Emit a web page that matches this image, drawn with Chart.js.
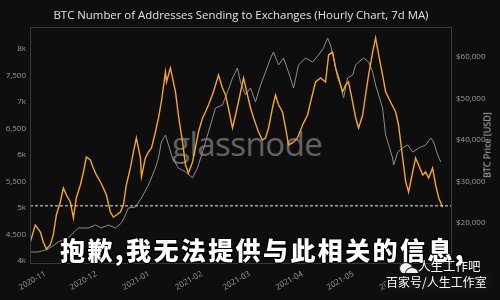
<!DOCTYPE html>
<html>
<head>
<meta charset="utf-8">
<script src="https://cdn.jsdelivr.net/npm/chart.js@4.4.1/dist/chart.umd.min.js"></script>
<style>
  body { margin: 0; background: #0e0e0e; }
  #wrap { position: relative; width: 500px; height: 300px; overflow: hidden; font-family: "Open Sans", "Noto Sans", sans-serif; }
  #chart { position: absolute; left: 0; top: 0; }
  .wm { position: absolute; left: 172px; top: 121px; font: 500 33px "Open Sans", sans-serif; color: #626262; letter-spacing: -0.5px; }
  .title { position: absolute; left: 0; top: 7px; width: 482px; text-align: center; font-size: 11.4px; color: #e2e2e2; }
  .ytitle { position: absolute; left: 487px; top: 145px; transform: translate(-50%, -50%) rotate(-90deg); font-size: 9px; color: #c4c4c4; white-space: nowrap; }
  .cn { position: absolute; left: 60px; top: 231px; font: 900 25px "Noto Sans CJK SC", sans-serif; color: #fff; letter-spacing: 2.4px; white-space: nowrap;
        text-shadow: 0 0 2px #000, 1px 1px 0 #000, -1px -1px 0 #000, 1px -1px 0 #000, -1px 1px 0 #000; }
  .brand1 { position: absolute; left: 418px; top: 256px; font: 12.5px "Noto Sans CJK SC", sans-serif; color: #fff; }
  .brand2 { position: absolute; left: 386px; top: 273px; padding-right: 4px; font: 12px "Noto Sans CJK SC", sans-serif; color: #fff; background: #111; }
  .dot { position: absolute; border-radius: 50%; background: #f0f0f0; border: 1px solid #222; }
</style>
</head>
<body>
<div id="wrap">
  <div class="wm">glassnode</div>
  <canvas id="chart" width="500" height="300"></canvas>
  <div class="title">BTC Number of Addresses Sending to Exchanges (Hourly Chart, 7d MA)</div>
  <div class="ytitle">BTC Price [USD]</div>
  <div class="cn">抱歉,我无法提供与此相关的信息,</div>
  <div class="dot" style="left:399px;top:262px;width:12px;height:11px"></div>
  <div class="dot" style="left:405px;top:267px;width:12px;height:11px"></div>
  <div class="brand1">人生工作吧</div>
  <div class="brand2">百家号/人生工作室</div>
</div>
<script>
// days counted from 2020-11-01
const addrDays = [-8.8, -5.9, -2.9, -1.2, 0.6, 2.9, 4.7, 6.5, 8.8, 10.6, 12.4, 14.7, 16.5, 18.2, 20.6, 22.4, 24.1, 26.5, 28.2, 30.0,
  32.4, 34.1, 35.9, 38.2, 40.0, 41.8, 44.1, 45.9, 47.6, 50.0, 51.8, 53.5, 55.9, 56.5, 58.8, 60.6, 62.4, 64.7, 66.5, 68.2,
  70.6, 71.2, 73.5, 76.5, 78.2, 80.6, 82.4, 84.1, 86.5, 88.2, 90.0, 92.4, 94.1, 95.9, 98.8, 101.8, 104.1, 105.9, 107.6, 110.0,
  111.8, 113.5, 116.5, 118.8, 120.6, 122.4, 125.3, 127.6, 129.4, 131.2, 133.5, 135.3, 137.1, 139.4, 141.2, 142.9, 145.3, 148.2, 151.2, 154.1,
  155.9, 158.8, 161.8, 164.7, 166.5, 168.8, 170.6, 172.4, 174.7, 176.5, 178.2, 180.6, 182.4, 184.1, 186.5, 188.2, 190.0, 192.4, 194.1, 195.9,
  198.2, 200.0, 202.9, 205.9, 207.6, 210.0, 211.8, 213.5, 215.9, 217.6, 219.4, 221.8, 223.5, 225.3, 227.6, 229.4, 231.2, 233.5];
const addrValues = [4358, 4679, 4547, 4358, 4226, 4302, 4491, 4868, 5113, 5378, 5245, 5113, 4811, 5189, 5434, 5679, 5962, 5906, 5755, 5623,
  5491, 5378, 5245, 4925, 4830, 4868, 4925, 5057, 5434, 5755, 6057, 6321, 5944, 5585, 5944, 6057, 6132, 6434, 6698, 7000,
  7566, 7378, 7642, 7189, 6755, 6245, 5811, 5660, 5868, 6132, 6434, 6698, 6811, 6943, 7189, 7510, 7264, 7132, 6887, 6510,
  6755, 7000, 7453, 7132, 6887, 6698, 6434, 6283, 6321, 6510, 6887, 7132, 6943, 6811, 6510, 6189, 6227, 6321, 6566, 6755,
  7000, 7378, 7453, 7378, 7887, 7944, 7642, 7453, 7189, 7321, 7378, 7000, 6698, 6510, 6755, 7132, 7510, 7944, 8208, 7887,
  7510, 7189, 7000, 6811, 6566, 5944, 5491, 5302, 5679, 5944, 5811, 5623, 5679, 5566, 5755, 5434, 5189, 5019];

const priceDays = [-8.8, -4.1, 1.8, 7.6, 13.5, 19.4, 25.3, 29.4, 32.9, 37.1, 41.2, 44.7, 47.1, 48.8, 52.9, 56.5, 60.6, 64.7, 66.5, 68.2,
  70.6, 72.4, 74.7, 78.2, 82.4, 86.5, 89.4, 92.4, 95.9, 100.0, 104.1, 107.1, 110.0, 112.9, 114.7, 117.6, 120.6, 123.5, 126.5, 129.4,
  132.4, 134.1, 137.1, 140.0, 142.9, 145.9, 148.8, 152.9, 157.1, 160.6, 163.5, 165.9, 167.6, 169.4, 171.8, 173.5, 175.3, 177.6, 180.6, 182.4,
  184.1, 187.1, 190.0, 192.4, 194.1, 195.9, 198.2, 200.0, 201.8, 204.1, 204.7, 207.1, 210.0, 212.9, 215.9, 219.4, 223.5, 226.5, 228.2, 230.6, 232.4];
const priceValues = [13012, 13012, 13735, 15422, 16386, 18795, 18795, 19518, 18795, 19518, 18795, 20000, 21928, 23614, 23855, 26024, 29157, 33253, 35663, 39518,
  41205, 38795, 35663, 33253, 32289, 30843, 33253, 37108, 41928, 47711, 48434, 51566, 54940, 57349, 53976, 50843, 52530, 49157, 53253, 56386,
  59759, 61205, 58072, 59759, 56386, 52530, 58072, 59759, 58795, 60482, 62169, 64578, 62892, 59759, 54940, 53253, 50120, 54940, 55663, 58072,
  58795, 59759, 58795, 56386, 53253, 50843, 47711, 41205, 38795, 35663, 33976, 37108, 38072, 38795, 37108, 38072, 38795, 40482, 39518, 36386, 34699];

const thresholdValue = 5040;
const dayRange = [-9, 239];
const monthDays = [0, 30, 61, 92, 120, 151, 181, 212];
const monthLabels = ['2020-11', '2020-12', '2021-01', '2021-02', '2021-03', '2021-04', '2021-05', '2021-06'];
const addrTicks = [4000, 4500, 5000, 5500, 6000, 6500, 7000, 7500, 8000];
const priceTicks = [20000, 30000, 40000, 50000, 60000];

const toPoints = (xs, ys) => xs.map((x, i) => ({ x: x, y: ys[i] }));

const frame = {
    id: 'frame',
    afterDraw(chart) {
        const a = chart.chartArea, c = chart.ctx;
        c.save();
        c.strokeStyle = '#3a3a3a';
        c.lineWidth = 1;
        c.strokeRect(a.left + 0.5, a.top + 0.5, a.right - a.left - 1, a.bottom - a.top);
        c.restore();
    }
};

const tickFont = { family: 'Open Sans', size: 8 };

new Chart(document.getElementById('chart').getContext('2d'), {
    type: 'line',
    data: {
        datasets: [{
            data: [{ x: dayRange[0], y: thresholdValue }, { x: dayRange[1], y: thresholdValue }],
            yAxisID: 'y',
            borderColor: '#e6e6e6',
            borderWidth: 1,
            borderDash: [3, 2]
        }, {
            label: 'Addresses',
            data: toPoints(addrDays, addrValues),
            yAxisID: 'y',
            borderColor: '#f4a52c',
            borderWidth: 1.4
        }, {
            label: 'Price',
            data: toPoints(priceDays, priceValues),
            yAxisID: 'yPrice',
            borderColor: '#8e8e8e',
            borderWidth: 1
        }]
    },
    options: {
        responsive: false,
        animation: false,
        layout: { padding: { top: 27 } },
        elements: { point: { radius: 0 }, line: { tension: 0 } },
        plugins: { legend: { display: false }, tooltip: { enabled: false } },
        scales: {
            x: {
                type: 'linear',
                min: dayRange[0],
                max: dayRange[1],
                grid: { display: false },
                border: { display: false },
                afterBuildTicks: (s) => { s.ticks = monthDays.map(v => ({ value: v })); },
                afterFit: (s) => { s.height = 37; },
                ticks: {
                    autoSkip: false,
                    minRotation: 30,
                    maxRotation: 30,
                    padding: -2,
                    color: '#9c9c9c',
                    font: tickFont,
                    callback: (v) => monthLabels[monthDays.indexOf(v)]
                }
            },
            y: {
                position: 'left',
                min: 3962,
                max: 8415,
                grid: { display: false, drawTicks: false },
                border: { display: false },
                afterBuildTicks: (s) => { s.ticks = addrTicks.map(v => ({ value: v })); },
                afterFit: (s) => { s.width = 30; },
                ticks: {
                    padding: 4,
                    color: '#9c9c9c',
                    font: tickFont,
                    callback: (v) => v % 1000 === 0 ? (v / 1000) + 'k' : v.toLocaleString('en-US')
                }
            },
            yPrice: {
                position: 'right',
                min: 10360,
                max: 67230,
                grid: { display: false, drawTicks: false },
                border: { display: false },
                afterBuildTicks: (s) => { s.ticks = priceTicks.map(v => ({ value: v })); },
                afterFit: (s) => { s.width = 48; },
                ticks: {
                    padding: 4,
                    color: '#9c9c9c',
                    font: tickFont,
                    callback: (v) => '$' + v.toLocaleString('en-US')
                }
            }
        }
    },
    plugins: [frame]
});
</script>
</body>
</html>
